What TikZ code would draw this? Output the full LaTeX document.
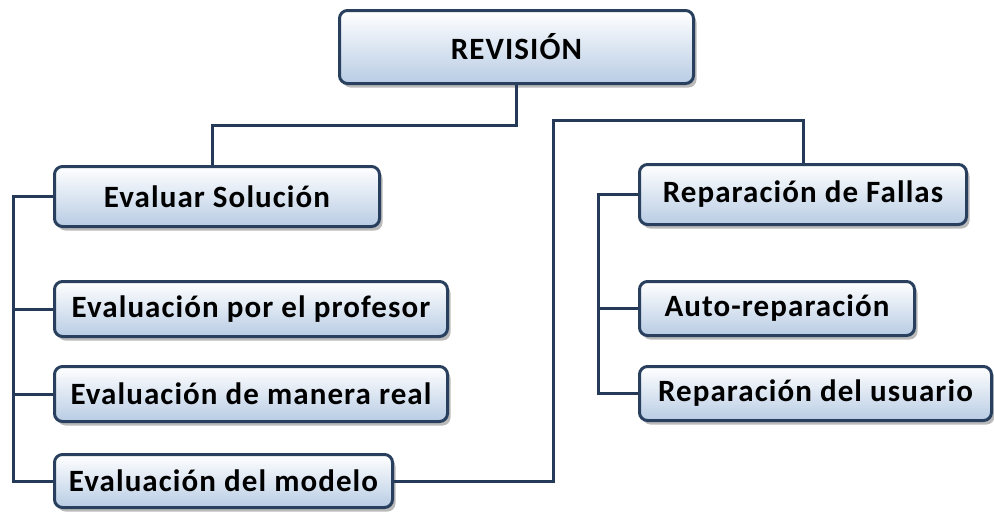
\documentclass[tikz,border=0pt]{standalone}
\usepackage{fontspec}
\setmainfont{Carlito}[LetterSpace=3.5]
\usetikzlibrary{shadows}
\definecolor{framecol}{RGB}{40,64,94}
\definecolor{boxblue}{RGB}{184,204,228}
\definecolor{linecol}{RGB}{36,58,88}
\tikzset{
  topic/.style={draw=framecol, line width=3pt, rounded corners=8pt,
    top color=white, bottom color=boxblue,
    drop shadow={shadow xshift=3pt, shadow yshift=-4pt, opacity=0.45, fill=black!60},
    anchor=north west, inner sep=0pt, align=center,
    font=\fontsize{31}{36}\selectfont\bfseries},
  link/.style={draw=linecol, line width=3pt}
}
\begin{document}
\begin{tikzpicture}[x=1pt,y=-1pt]
\path[use as bounding box] (0,0) rectangle (994,512);

% boxes
\node[topic, minimum width=354pt, minimum height=73pt] (rev) at (338,9) {REVISIÓN};
\node[topic, minimum width=325pt, minimum height=60pt] (eval) at (53,165) {Evaluar Solución};
\node[topic, minimum width=393pt, minimum height=55pt] (prof) at (53,280) {Evaluación por el profesor};
\node[topic, minimum width=393pt, minimum height=55pt] (real) at (53,365) {Evaluación de manera real};
\node[topic, minimum width=338pt, minimum height=53pt] (model) at (53,453) {Evaluación del modelo};
\node[topic, minimum width=327pt, minimum height=60pt] (fail) at (638,163) {Reparación de Fallas};
\node[topic, minimum width=275pt, minimum height=54pt] (auto) at (638,280) {Auto-reparación};
\node[topic, minimum width=352pt, minimum height=54pt] (user) at (638,365) {Reparación del usuario};

% junction points of the elbow connectors
\coordinate (lspine) at (13,0);
\coordinate (rspine) at (598,0);
\coordinate (jrev) at (0,125);
\coordinate (jmod) at (553,0);
\coordinate (jtop) at (0,120);

\path[link] (rev.south) -- (rev.south |- jrev) -| ([xshift=-5pt]eval.north);
\path[link] (model.east) -- (model.east -| jmod) -- (jmod |- jtop) -| (fail.north);
\path[link] (eval.west) -- (eval.west -| lspine) -- (model.west -| lspine) -- (model.west);
\path[link] (prof.west -| lspine) -- (prof.west);
\path[link] (real.west -| lspine) -- (real.west);
\path[link] (fail.west) -- (fail.west -| rspine) -- (user.west -| rspine) -- (user.west);
\path[link] (auto.west -| rspine) -- (auto.west);
\end{tikzpicture}
\end{document}
